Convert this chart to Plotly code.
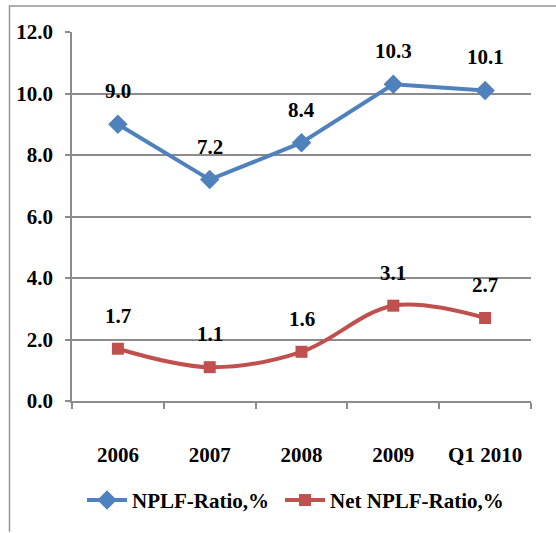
import plotly.graph_objects as go

# Reporting periods and ratios (%)
periods = ["2006", "2007", "2008", "2009", "Q1 2010"]
nplf_ratio = [9.0, 7.2, 8.4, 10.3, 10.1]
net_nplf_ratio = [1.7, 1.1, 1.6, 3.1, 2.7]
y_ticks = [0, 2, 4, 6, 8, 10, 12]

BLUE = "#4F81BD"
RED = "#C0504D"
GRID = "#8C8C8C"
FONT = dict(family="Liberation Serif, Times New Roman, serif", size=21, color="#000000", weight=700)

W, H = 556, 533
L, R, T, B = 72, 25, 32, 126

pw = W - L - R
ph = H - T - B
def px_x(px):
    return (px - L) / pw
def px_y(py):
    return (H - B - py) / ph

fig = go.Figure()
fig.add_trace(go.Scatter(
    x=periods, y=nplf_ratio, name="NPLF-Ratio,%",
    mode="lines+markers",
    line=dict(color=BLUE, width=4),
    marker=dict(symbol="diamond", size=15, color=BLUE),
    legend="legend",
))
fig.add_trace(go.Scatter(
    x=periods, y=net_nplf_ratio, name="Net NPLF-Ratio,%",
    mode="lines+markers",
    line=dict(color=RED, width=4, shape="spline", smoothing=1.0),
    marker=dict(symbol="square", size=12, color=RED),
    legend="legend2",
))

# Value labels above each point (category index as x position)
for series in (nplf_ratio, net_nplf_ratio):
    for i, v in enumerate(series):
        fig.add_annotation(x=i, y=v, text=f"{v:.1f}", showarrow=False,
                           yshift=33, font=FONT)

# Chart frame (top and left edges)
fig.add_shape(type="line", xref="paper", yref="paper",
              x0=px_x(9), x1=px_x(560), y0=px_y(5.5), y1=px_y(5.5),
              line=dict(color="#969696", width=1.5))
fig.add_shape(type="line", xref="paper", yref="paper",
              x0=px_x(9.5), x1=px_x(9.5), y0=px_y(5), y1=px_y(540),
              line=dict(color="#969696", width=1.5))

legend_common = dict(orientation="h", xanchor="left", y=px_y(508), yanchor="middle",
                     font=FONT, itemwidth=40, bgcolor="rgba(0,0,0,0)")
fig.update_layout(
    width=W, height=H,
    margin=dict(l=L, r=R, t=T, b=B),
    paper_bgcolor="white", plot_bgcolor="white",
    font=FONT,
    showlegend=True,
    legend=dict(x=px_x(82), **legend_common),
    legend2=dict(x=px_x(280), **legend_common),
)
fig.update_xaxes(
    type="category", range=[-0.5, 4.5],
    showline=True, linecolor=GRID, linewidth=1.5,
    ticks="outside", tickson="boundaries", ticklen=6, tickcolor=GRID, tickwidth=1.5,
    showgrid=False, ticklabelstandoff=34, tickfont=FONT,
)
fig.update_yaxes(
    range=[0, 12], tickvals=y_ticks, tickformat=".1f",
    showline=True, linecolor=GRID, linewidth=1.5,
    ticks="outside", ticklen=5, tickcolor=GRID, tickwidth=1.5,
    showgrid=True, gridcolor=GRID, gridwidth=1.5, zeroline=False,
    ticklabelstandoff=8, tickfont=FONT,
)

fig.write_html("out.html")
